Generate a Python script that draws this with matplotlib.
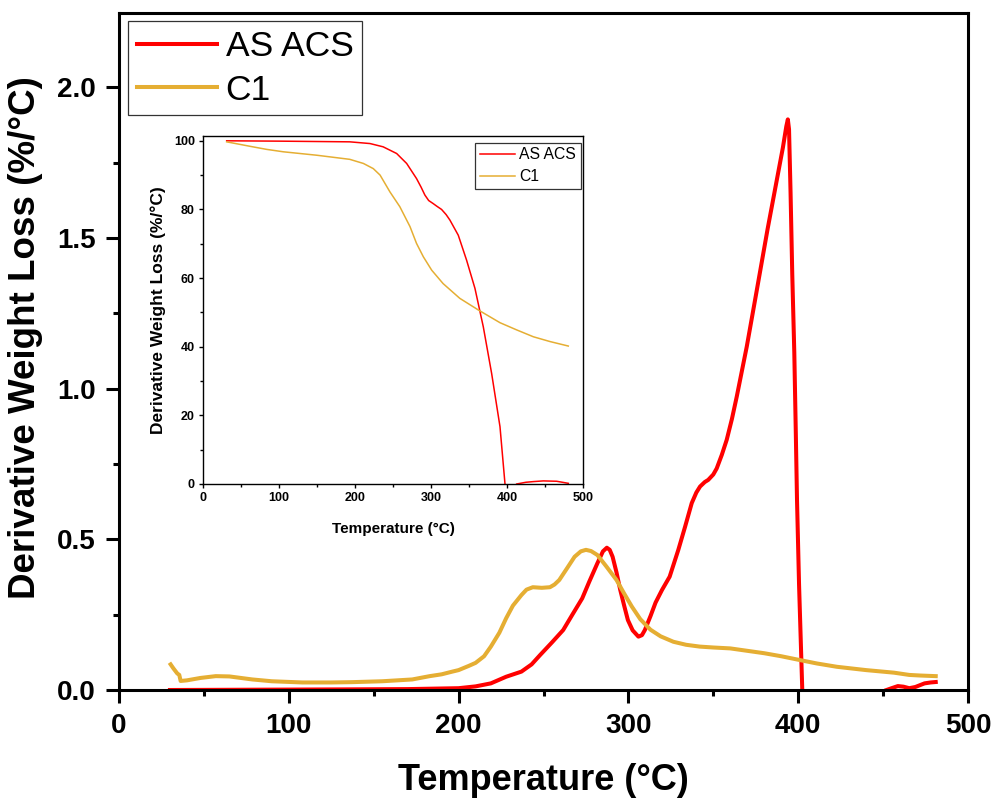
import numpy as np
import matplotlib
matplotlib.use("Agg")
import matplotlib.pyplot as plt
from matplotlib.ticker import MultipleLocator

plt.rcParams['font.family'] = ['Liberation Sans', 'DejaVu Sans']

RED = '#FF0000'
GOLD = '#E5AE33'

# DTG curves (main axes)
temp_acs_dtg = [30, 80, 130, 170, 200, 210, 219, 228, 237, 243, 248, 255, 261.6, 267, 272.8,
                277, 281.7, 285, 287.3, 289, 290.7, 293, 295.2, 297.5, 299.7, 302.5, 305.9,
                308, 309.7, 313, 316, 319.8, 324.3, 329.4, 333.3, 337.3, 340, 342.2, 345, 347,
                350, 352, 355, 357.9, 361, 363.8, 369.7, 374.6, 382, 388, 391, 393, 393.9,
                394.6, 395.5, 396.5, 397.7, 398.6, 399.3, 400.5, 402.4, np.nan,
                452, 455, 458.7, 462, 465.4, 469, 474.4, 478, 481]
dtg_acs = [0.000, 0.001, 0.002, 0.003, 0.006, 0.012, 0.022, 0.044, 0.061, 0.085, 0.116, 0.158,
           0.199, 0.250, 0.304, 0.36, 0.42, 0.46, 0.472, 0.465, 0.442, 0.39, 0.332, 0.28,
           0.232, 0.198, 0.177, 0.182, 0.199, 0.245, 0.29, 0.332, 0.376, 0.465, 0.54, 0.62,
           0.655, 0.675, 0.69, 0.697, 0.715, 0.735, 0.78, 0.83, 0.90, 0.973, 1.139, 1.294,
           1.53, 1.71, 1.80, 1.87, 1.893, 1.86, 1.65, 1.38, 1.12, 0.85, 0.63, 0.35, 0.0, np.nan,
           0.0, 0.006, 0.013, 0.011, 0.006, 0.010, 0.022, 0.025, 0.0265]

temp_c1_dtg = [30.4, 32, 34.3, 35.5, 36.3, 40, 48, 57, 65, 78.5, 90, 108, 125, 137, 155, 172.7,
               183, 190, 196.3, 200, 206, 210, 215, 219, 224, 228, 232, 237, 240, 243.7, 249,
               253.8, 256.5, 259.3, 264, 268.3, 272, 275, 278, 281.7, 287, 293, 297.5, 302,
               307, 313, 319, 326.5, 334, 342, 350, 360, 370, 380, 390, 400.4, 411, 422.8,
               440, 456.4, 465.4, 472, 481]
dtg_c1 = [0.085, 0.072, 0.055, 0.050, 0.030, 0.032, 0.040, 0.046, 0.045, 0.035, 0.029, 0.025,
          0.025, 0.026, 0.029, 0.035, 0.046, 0.052, 0.061, 0.066, 0.080, 0.090, 0.112, 0.144,
          0.19, 0.238, 0.28, 0.315, 0.333, 0.341, 0.339, 0.341, 0.350, 0.365, 0.405, 0.442,
          0.460, 0.465, 0.461, 0.448, 0.41, 0.365, 0.32, 0.277, 0.235, 0.200, 0.178, 0.160,
          0.150, 0.144, 0.141, 0.138, 0.130, 0.122, 0.112, 0.100, 0.088, 0.077, 0.066,
          0.0575, 0.050, 0.048, 0.046]

# TGA curves (inset)
temp_acs_tga = [30.8, 100, 193, 219.7, 237, 254.8, 268, 281, 287, 292, 297, 303, 308, 314, 320,
                325, 336, 347, 358, 369, 380, 391, 397.6, np.nan, 413, 425, 435, 448, 465.7, 481]
tga_acs = [100.0, 99.9, 99.7, 99.2, 98.25, 96.3, 93.4, 89.0, 86.5, 84.2, 82.6, 81.7, 80.9, 80.0,
           78.5, 76.9, 72.5, 65.2, 57.0, 45.8, 32.2, 16.7, 0.0, np.nan, 0.0, 0.5, 0.7, 0.9, 0.8, 0.2]

temp_c1_tga = [30.8, 61.5, 83.5, 105.4, 149.4, 193, 211, 224, 233, 246, 259, 272.4, 281, 290,
               301, 316, 338, 362.5, 391, 413, 435, 457, 481]
tga_c1 = [99.7, 98.4, 97.5, 96.8, 95.8, 94.6, 93.4, 91.9, 90.0, 85.1, 80.8, 75.0, 70.1, 66.2,
          62.3, 58.4, 54.1, 50.7, 47.0, 44.9, 42.9, 41.5, 40.2]

labels = ['AS ACS', 'C1']

fig = plt.figure(figsize=(9.97, 8.02), dpi=100)

# main DTG plot
ax = fig.add_axes([119 / 997, 112 / 802, 849 / 997, 677 / 802])
ax.plot(temp_acs_dtg, dtg_acs, color=RED, lw=2.9, label=labels[0])
ax.plot(temp_c1_dtg, dtg_c1, color=GOLD, lw=2.9, label=labels[1])
ax.set_xlim(0, 500)
ax.set_ylim(0, 2.246)
ax.xaxis.set_major_locator(MultipleLocator(100))
ax.xaxis.set_minor_locator(MultipleLocator(50))
ax.yaxis.set_major_locator(MultipleLocator(0.5))
ax.yaxis.set_minor_locator(MultipleLocator(0.25))
ax.yaxis.set_major_formatter(plt.FormatStrFormatter('%.1f'))
ax.tick_params(which='major', direction='out', length=9.5, width=2.2, pad=7,
               labelsize=20)
ax.tick_params(which='minor', direction='out', length=4.5, width=2.2)
for t in ax.get_xticklabels() + ax.get_yticklabels():
    t.set_fontweight('bold')
for s in ax.spines.values():
    s.set_linewidth(2.2)
ax.set_xlabel('Temperature (°C)', fontsize=26, fontweight='bold')
ax.set_ylabel('Derivative Weight Loss (%/°C)', fontsize=26.5, fontweight='bold')
ax.xaxis.set_label_coords(0.5, -0.108)
ax.yaxis.set_label_coords(-0.09, 0.521)
leg = ax.legend(loc='upper left', bbox_to_anchor=(0.0106, 0.988), borderaxespad=0,
                fontsize=25.5, frameon=True, fancybox=False, edgecolor='black',
                handlelength=2.26, handletextpad=0.25, borderpad=0.25, labelspacing=0.3)
leg.get_frame().set_linewidth(0.9)

# inset TGA plot
ins = fig.add_axes([203.3 / 997, (802 - 484) / 802, 379.4 / 997, 348 / 802])
ins.plot(temp_acs_tga, tga_acs, color=RED, lw=1.1, label=labels[0])
ins.plot(temp_c1_tga, tga_c1, color=GOLD, lw=1.1, label=labels[1])
ins.set_xlim(0, 500)
ins.set_ylim(0, 101.4)
ins.xaxis.set_major_locator(MultipleLocator(100))
ins.xaxis.set_minor_locator(MultipleLocator(50))
ins.yaxis.set_major_locator(MultipleLocator(20))
ins.yaxis.set_minor_locator(MultipleLocator(10))
ins.tick_params(which='major', direction='out', length=3, width=1, pad=3, labelsize=9)
ins.tick_params(which='minor', direction='out', length=2, width=1)
for t in ins.get_xticklabels() + ins.get_yticklabels():
    t.set_fontweight('bold')
for s in ins.spines.values():
    s.set_linewidth(1.0)
ins.set_xlabel('Temperature (°C)', fontsize=11, fontweight='bold')
ins.set_ylabel('Derivative Weight Loss (%/°C)', fontsize=12.5, fontweight='bold')
ins.xaxis.set_label_coords(0.5, -0.11)
ins.yaxis.set_label_coords(-0.097, 0.5)
leg2 = ins.legend(loc='upper left', bbox_to_anchor=(0.717, 0.981), borderaxespad=0,
                  fontsize=11.3, frameon=True, fancybox=False, edgecolor='black',
                  handlelength=2.2, handletextpad=0.3, borderpad=0.3, labelspacing=0.45)
leg2.get_frame().set_linewidth(0.9)

fig.savefig('out.png', dpi=100)
